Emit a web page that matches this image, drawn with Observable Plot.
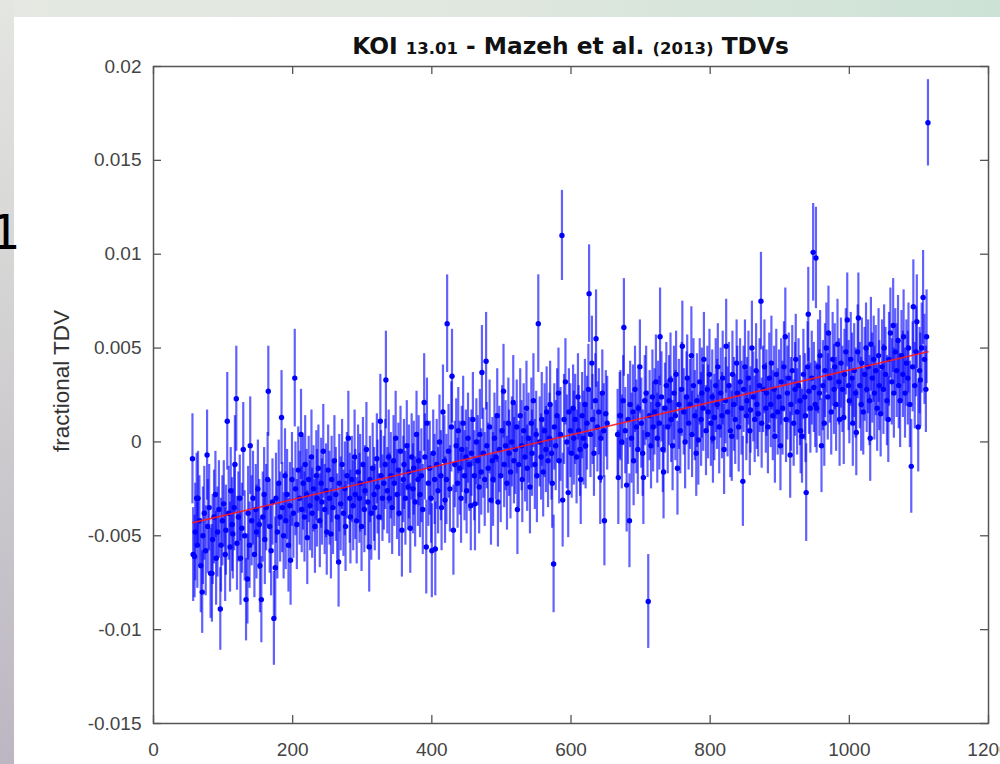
<!DOCTYPE html>
<html><head><meta charset="utf-8">
<script src="https://cdn.jsdelivr.net/npm/d3@7"></script>
<script src="https://cdn.jsdelivr.net/npm/@observablehq/plot@0.6"></script>
<style>
html,body{margin:0;padding:0;}
body{width:1000px;height:764px;overflow:hidden;position:relative;background:#fff;font-family:"Liberation Sans",Arial,sans-serif;}
#topband{position:absolute;left:0;top:0;width:1000px;height:17px;background:linear-gradient(to right,#e6e9e3,#dfe7df 50%,#cde2d6);}
#leftband{position:absolute;left:0;top:0;width:14px;height:764px;background:linear-gradient(to bottom,#e4e6e2,#d4d3d3 40%,#bcb6c2);}
#panel{position:absolute;left:14px;top:17px;right:0;bottom:0;background:#fff;}
#chart{position:absolute;left:0;top:0;}
#title{position:absolute;top:34px;left:153px;width:835px;text-align:center;font-family:"DejaVu Sans",sans-serif;font-weight:bold;font-size:23.3px;line-height:1;color:#111;white-space:nowrap;}
#title .s{font-size:16.5px;}
#ylabel{position:absolute;left:62px;top:381px;transform:translate(-50%,-50%) rotate(-90deg);font-size:22.5px;color:#333;white-space:nowrap;}
#one{position:absolute;left:-10px;top:208px;font-family:"DejaVu Sans";font-size:48px;line-height:1;color:#000;}
</style>
</head><body>
<div id="topband"></div><div id="leftband"></div><div id="panel"></div>
<div id="chart"></div>
<div id="title">KOI <span class="s">13.01</span> - Mazeh et al. <span class="s">(2013)</span> TDVs</div>
<div id="ylabel">fractional TDV</div>
<div id="one">1</div>
<script>
// Transit epoch (days)
const day = [
56,57,59,60,62,63,64,66,68,70,71,73,75,77,78,80,82,84,85,87,89,90,92,94,96,97,99,101,103,104,106,108,110,111,113,114,116,117,119,120,122,124,125,127,129,
131,133,135,136,138,139,141,143,145,147,148,150,152,153,155,157,159,160,162,164,165,167,169,171,173,175,176,178,180,182,184,185,187,189,190,192,194,196,197,199,
201,203,204,206,208,210,212,213,215,217,218,220,221,223,225,227,228,230,232,234,235,237,239,241,242,244,246,248,249,251,253,255,256,258,
260,262,264,266,267,269,271,273,275,276,278,280,282,283,285,287,289,290,292,294,296,297,299,301,303,304,306,308,310,311,313,315,317,318,321,322,324,326,327,329,
331,333,334,336,338,339,341,343,345,346,348,350,352,353,355,357,359,360,362,364,366,367,369,371,373,374,376,378,380,381,383,385,387,389,390,392,393,395,397,399,400,402,404,405,407,409,411,413,414,416,418,419,
421,422,424,426,428,429,431,433,435,437,438,440,442,443,445,447,449,450,452,454,456,457,459,461,462,464,466,468,469,471,472,474,476,478,479,481,483,485,487,488,490,492,494,495,497,499,501,503,504,506,508,510,511,513,515,517,518,
520,522,523,525,527,529,530,532,534,536,537,539,541,543,544,546,548,550,551,553,555,557,558,560,562,564,565,567,569,570,572,573,575,576,578,580,582,583,585,587,588,590,592,594,596,597,
599,601,603,604,606,608,610,611,613,614,616,618,620,621,623,625,626,628,630,631,633,635,636,638,640,642,643,645,647,648,650,652,
667,668,670,671,673,675,676,678,680,682,684,685,687,689,690,692,694,696,697,699,701,703,704,706,708,710,711,713,715,717,718,
720,722,724,725,727,728,730,732,733,735,737,739,741,743,744,746,748,750,751,753,755,757,759,760,762,764,766,767,769,771,773,774,776,778,780,781,783,785,787,788,790,791,794,796,797,799,
801,803,804,806,808,810,811,813,815,817,818,820,822,823,825,827,829,831,832,834,836,838,839,841,843,845,847,848,850,852,853,855,857,858,860,862,864,866,867,869,871,873,874,876,878,880,
881,883,885,887,888,890,892,893,895,897,899,901,902,904,906,908,909,911,913,915,916,918,920,922,923,925,927,929,930,932,934,936,937,938,940,941,942,944,946,948,949,951,952,
953,955,957,958,960,962,964,965,967,969,970,972,974,976,978,979,981,983,985,986,988,990,992,993,995,997,999,1000,1002,1004,1005,1007,1009,1010,1012,1013,1015,1017,1018,1020,1022,1024,1025,1027,1029,1030,1031,1033,1035,1036,1038,1040,1042,1043,1045,1047,
1049,1050,1052,1054,1056,1057,1059,1061,1063,1064,1066,1068,1070,1071,1073,1075,1077,1078,1080,1082,1084,1085,1087,1089,1091,1092,1094,1096,1097,1099,1101,1102,1104,1106,1108,1110,1111,1113
];
// Fractional TDV, in units of 1e-4
const tdvE4 = [
-9,-60,-61,-48,-30,-55,-30,-42,-66,-80,-50,-38,-58,-7,-45,-35,-70,-70,-52,-40,-28,-62,-48,-36,-89,-55,-42,-33,-60,-47,11,-38,-56,-26,-44,-49,-35,-12,23,-54,-40,-30,-62,-46,-4,
-50,-84,-73,-38,-55,-2,-42,-30,-60,-36,-48,-25,-44,-66,-84,-40,-28,-52,-35,-20,27,-45,-58,-32,-94,-67,-30,-48,-22,-40,13,-35,-50,-18,-42,-28,-55,-34,-63,-20,
-38,34,-25,-44,-15,-30,4,-36,-22,-40,-12,-28,-51,-20,-34,-8,-38,-25,-45,-18,-30,-14,-42,-22,-32,-5,-36,-26,-48,-15,-30,-49,-20,-35,
-10,-28,-40,-64,-22,-33,-12,-38,-25,-45,-18,2,-30,-40,-20,-34,-8,-28,-42,-16,-30,-22,-45,-12,-36,-26,-4,-32,-56,-20,-38,-14,-28,-35,-9,-24,-40,11,-18,-30,
-22,-12,33,-26,-8,-30,-18,-35,-10,-22,2,-28,-15,-38,-5,-47,-20,-12,-30,-2,-24,-16,-46,-8,-25,-14,-32,4,-20,-10,-28,-18,-36,21,-8,-56,10,-22,-14,-30,-58,-6,-20,-57,-12,-26,0,-18,-35,16,-10,-31,
-20,63,-5,-25,8,35,-47,-12,-2,-22,6,-14,-30,-4,10,-18,-8,-26,2,-12,-34,-6,12,-18,-33,0,-10,-24,4,-16,37,-6,-20,43,-2,-14,8,-31,-10,-20,2,-8,14,-32,-4,-18,6,27,-12,-2,-22,10,-6,-16,0,21,-10,
-4,8,-36,-12,14,-2,-20,6,-8,18,-14,2,-24,10,-6,22,-12,4,-18,63,0,-8,12,-16,6,-4,16,-10,2,20,-6,-22,-65,8,-2,14,26,-10,4,110,-31,12,32,0,-27,16,
6,-6,18,2,12,-8,24,6,-4,-20,14,2,20,-2,10,28,79,4,42,12,-6,22,55,8,16,-19,2,26,6,-42,15,10,
4,-19,14,14,0,22,61,6,-23,12,-42,20,2,16,-10,28,8,-4,18,40,10,-6,-19,22,26,4,-85,14,-2,24,8,
16,32,2,20,10,56,24,-4,-16,18,30,8,22,33,12,-2,26,14,36,-14,20,6,28,51,16,0,24,34,10,20,46,4,30,14,-6,22,1,32,12,26,18,44,6,28,16,36,
10,24,2,13,30,20,40,8,26,14,34,-4,22,51,16,30,6,3,36,20,12,42,26,8,32,18,-21,28,40,14,22,34,6,17,50,24,12,38,20,15,30,75,10,28,40,18,
26,8,34,20,42,14,28,3,36,16,24,-2,32,18,40,56,12,26,34,-7,20,38,10,28,44,16,30,22,6,3,36,24,14,-27,40,68,27,18,34,101,29,20,98,
18,40,26,46,-2,30,10,38,50,24,58,34,16,44,28,40,20,52,32,12,42,28,13,36,48,65,30,22,44,34,10,38,26,5,48,66,30,20,42,16,36,50,28,40,22,2,52,34,44,26,38,18,46,30,15,40,
28,50,36,22,12,44,58,32,62,26,48,38,54,30,22,46,36,56,26,42,34,50,20,-13,40,72,30,48,64,8,38,33,50,77,44,28,56,170
];
// 1-sigma uncertainty, in units of 1e-4
const errE4 = [
24,25,22,26,24,23,25,24,25,22,26,25,24,24,25,23,24,26,24,25,23,25,24,26,22,25,24,23,25,24,26,25,24,23,25,24,23,26,28,25,24,23,25,24,25,
24,22,24,25,23,26,24,25,23,24,25,26,24,25,23,24,25,24,23,25,24,25,24,23,25,27,24,25,23,24,25,24,23,25,26,24,25,23,24,25,
24,26,25,24,23,25,24,23,25,24,26,24,25,23,24,25,24,23,25,24,26,23,25,24,23,25,24,25,23,24,25,24,23,25,
24,25,23,24,26,25,24,23,25,24,23,25,24,25,23,24,25,24,23,25,24,26,24,25,23,24,25,24,24,23,25,24,25,23,24,25,23,25,24,23,
25,24,26,23,25,24,23,25,24,23,25,24,25,23,24,25,23,24,25,24,23,25,24,23,24,25,24,23,25,24,23,25,24,26,23,25,24,23,25,24,25,23,24,25,24,23,25,24,23,25,24,23,
24,26,25,23,24,25,24,23,25,24,23,25,24,23,25,24,25,23,24,25,24,23,25,24,25,23,24,25,24,23,25,24,25,26,23,24,25,24,23,25,24,23,25,24,23,25,24,25,23,24,25,24,23,25,24,25,23,
24,25,24,23,25,24,23,25,24,25,23,24,25,24,23,25,24,23,25,26,24,23,25,24,25,23,24,25,24,23,25,24,26,23,24,25,24,23,25,24,25,24,23,25,24,23,
25,24,23,25,24,25,23,24,25,24,23,25,24,23,25,24,26,23,25,24,23,25,26,24,23,25,24,23,25,24,23,25,
24,25,23,24,25,24,26,23,25,24,25,23,24,25,24,23,25,24,23,25,24,23,25,24,25,23,25,24,23,25,24,
23,25,24,23,25,26,24,23,25,24,23,25,24,25,23,24,25,24,23,25,24,23,25,24,23,25,24,23,25,24,26,23,25,24,23,25,24,23,25,24,23,25,24,23,25,24,
23,25,24,23,25,24,23,25,24,23,25,24,23,25,24,23,25,24,23,25,24,23,25,24,23,25,24,23,25,24,23,25,24,23,25,24,23,25,24,23,25,26,24,23,25,24,
23,25,24,23,25,24,23,25,24,23,25,24,23,25,24,26,23,25,24,23,25,24,23,25,24,23,25,24,23,25,24,23,25,26,24,25,23,24,25,26,24,23,27,
24,25,23,24,25,24,23,25,24,23,25,24,23,25,24,23,25,24,23,25,24,23,25,24,23,25,24,23,25,24,23,25,24,23,25,24,23,25,24,23,25,24,23,25,24,23,25,24,23,25,24,23,25,24,23,25,
24,23,25,24,23,25,24,23,25,24,23,25,24,23,25,24,23,25,24,23,25,24,23,25,24,25,23,24,25,24,23,25,24,25,24,23,25,23
];
// Linear trend (red line) end points
const trendDay = [57, 1113];
const trendTdv = [-0.0043, 0.0048];
// Axis ticks
const xTicks = [0, 200, 400, 600, 800, 1000, 1200];
const yTicks = [-0.015, -0.01, -0.005, 0, 0.005, 0.01, 0.015, 0.02];
const yTickLabels = ["-0.015", "-0.01", "-0.005", "0", "0.005", "0.01", "0.015", "0.02"];

const n = Math.min(day.length, tdvE4.length, errE4.length);
const data = [];
for (let i = 0; i < n; i++) data.push({day: day[i], tdv: tdvE4[i] / 1e4, err: errE4[i] / 1e4});
const trend = trendDay.map((d, i) => ({day: d, tdv: trendTdv[i]}));

const W = 1000, H = 764, mL = 153, mR = 12, mT = 66, mB = 41;
const innerW = W - mL - mR, innerH = H - mT - mB;
const tick = 8, axisColor = "#555";

const chart = Plot.plot({
  width: W, height: H,
  marginLeft: mL, marginRight: mR, marginTop: mT, marginBottom: mB,
  style: {background: "transparent", fontFamily: "'Liberation Sans', Arial, sans-serif", overflow: "visible"},
  x: {domain: [0, 1200]},
  y: {domain: [-0.015, 0.02]},
  marks: [
    Plot.ruleX(data, {x: "day", y1: d => d.tdv - d.err, y2: d => d.tdv + d.err, stroke: "#0000ff", strokeOpacity: 0.62, strokeWidth: 2.2}),
    Plot.dot(data, {x: "day", y: "tdv", r: 2.7, fill: "#0000ff", stroke: null}),
    Plot.line(trend, {x: "day", y: "tdv", stroke: "#ff1a1a", strokeWidth: 1.6, strokeOpacity: 0.9}),
    Plot.ruleX(xTicks, {x: d => d, insetTop: innerH - tick, stroke: axisColor, strokeWidth: 1.3}),
    Plot.ruleX(xTicks, {x: d => d, insetBottom: innerH - tick, stroke: axisColor, strokeWidth: 1.3}),
    Plot.ruleY(yTicks, {y: d => d, insetRight: innerW - tick, stroke: axisColor, strokeWidth: 1.3}),
    Plot.ruleY(yTicks, {y: d => d, insetLeft: innerW - tick, stroke: axisColor, strokeWidth: 1.3}),
    Plot.frame({stroke: axisColor, strokeWidth: 1.5}),
    Plot.axisX({ticks: xTicks, anchor: "bottom", tickSize: 0, tickPadding: 19, fontSize: 19, fill: "#444", tickFormat: d => String(d), label: null}),
    Plot.axisY({ticks: yTicks, anchor: "left", tickSize: 0, tickPadding: 12, fontSize: 19, fill: "#444", tickFormat: d => yTickLabels[yTicks.indexOf(d)], label: null})
  ]
});
document.getElementById("chart").appendChild(chart);
</script>
</body></html>
